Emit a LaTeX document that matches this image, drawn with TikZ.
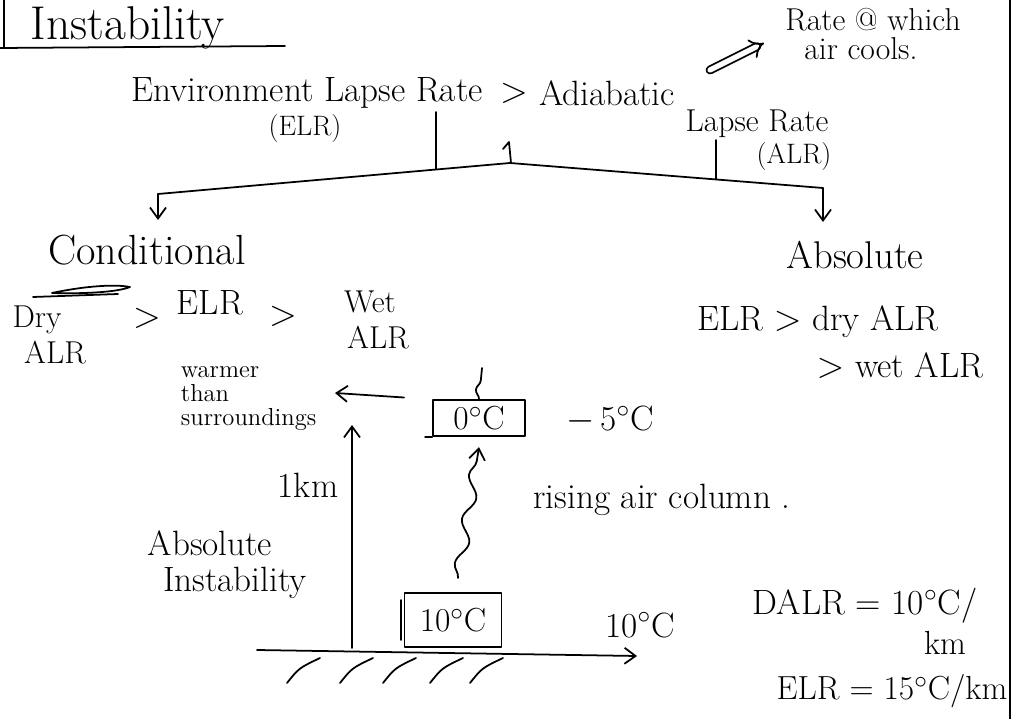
\documentclass[tikz,border=0pt]{standalone}
\usepackage{tikz}
\usetikzlibrary{arrows.meta, positioning, decorations.pathmorphing}

\tikzset{
  hand/.style={font=\fontsize{20}{22}\selectfont},
  big/.style={font=\fontsize{27}{29}\selectfont},
  note/.style={font=\fontsize{18}{17}\selectfont, align=left},
  tiny note/.style={font=\fontsize{14}{13.5}\selectfont, align=left},
  arr/.style={-{Straight Barb[length=2.2mm, width=3.2mm]}},
  tempbox/.style={draw, line width=1pt, font=\fontsize{19}{21}\selectfont},
  wavy/.style={decorate, decoration={snake, amplitude=1.1mm, segment length=9mm, post length=1.5mm}}
}

\begin{document}
\begin{tikzpicture}[x=0.02cm, y=-0.02cm, line width=1pt, line cap=round, line join=round]
\useasboundingbox (0,0) rectangle (1031,719);

% page rules
\draw (4,0) -- (4,48);
\draw (1010,0) -- (1010,719);

% heading
\node[big, anchor=west, inner sep=0pt] (head) at (30,28) {Instability};
\draw (0,48) -- (285,46);

% lapse rates
\node[hand] (env) at (307,93) {Environment Lapse Rate};
\node[hand] (gt) at (514,93) {$>$};
\node[hand] (adia) at (607,93) {Adiabatic};
\node[hand, font=\fontsize{16}{18}\selectfont] (elr) at (305,128) {(ELR)};
\node[hand, font=\fontsize{18}{20}\selectfont] (lapse) at (757,124) {Lapse Rate};
\node[hand, font=\fontsize{16}{18}\selectfont] (alr) at (794,156) {(ALR)};
\node[note] (cools) at (873,34) {Rate @ which\\ \ \ air cools.};
\coordinate (imp) at (710,70);
\coordinate (impend) at (764,43);
\draw[double, double distance=3pt, -{Implies}] (imp) -- (impend);

% split into two kinds
\coordinate (sl) at (158,194);
\coordinate (sm) at (510,163);
\coordinate (sr) at (823,188);
\draw (sl) -- (sm) -- (sr);
\draw (436,112) -- (436,169);
\draw (503,149) -- (509,142) -- (511,163);
\draw (716,140) -- (716,179);
\coordinate (sld) at (158,220);
\coordinate (srd) at (823,222);
\draw[arr] (sl) -- (sld);
\draw[arr] (sr) -- (srd);

% conditional
\node[hand, font=\fontsize{24}{26}\selectfont] (cond) at (147,250) {Conditional};
\draw (33,297) -- (118,294);
\draw (52,293) .. controls (85,286) and (115,284) .. (130,287)
  .. controls (118,292) and (85,294) .. (52,293);
\node[hand, font=\fontsize{18}{20}\selectfont] (dry) at (37,320) {Dry};
\node[hand, font=\fontsize{18}{20}\selectfont] (dryalr) at (55,353) {ALR};
\node[hand] (gta) at (147,318) {$>$};
\node[hand] (celr) at (210,303) {ELR};
\node[hand] (gtb) at (283,316) {$>$};
\node[hand, font=\fontsize{18}{20}\selectfont] (wet) at (370,302) {Wet};
\node[hand, font=\fontsize{18}{20}\selectfont] (wetalr) at (378,338) {ALR};

% absolute
\node[hand, font=\fontsize{22}{24}\selectfont] (abs) at (855,255) {Absolute};
\node[hand] (absa) at (818,322) {ELR $>$ dry ALR};
\node[hand] (absb) at (900,366) {$>$ wet ALR};

% parcel sketch
\coordinate (gl) at (257,650);
\coordinate (gr) at (637,656);
\draw[arr] (gl) -- (gr);
\foreach \hx in {287,340,383,430,470}
  \draw (\hx,683) .. controls (\hx+12,668) .. (\hx+33,658);
\coordinate (orig) at (352,648);
\coordinate (ytop) at (352,425);
\draw[arr] (orig) -- (ytop);

\node[tempbox, minimum width=1.94cm, minimum height=1.08cm] (ten) at (453,620) {10${}^\circ$C};
\draw (401,600) -- (401,640);
\node[tempbox, minimum width=1.84cm, minimum height=0.7cm] (zero) at (479,418) {0${}^\circ$C};
\draw (zero.south west) -- ++(-7,0);

\coordinate (rise) at (458,578);
\draw[wavy, arr] (rise) -- ([yshift=-6]zero.south);
\coordinate (up) at (482,368);
\draw[wavy, decoration={segment length=6mm, amplitude=0.8mm}] (zero.north) -- (up);

\node[tiny note, anchor=north west, inner sep=0pt] (warm) at (180,366) {warmer\\than\\surroundings};
\coordinate (warmtip) at (335,393);
\draw[arr, shorten <=16] (zero.north west) -- (warmtip);

\node[hand] (minus) at (610,420) {$-$\,5${}^\circ$C};
\node[hand] (km) at (308,485) {1km};
\node[hand] (risenote) at (662,500) {rising air column .};
\node[hand] (absi) at (210,543) {Absolute};
\node[hand] (absii) at (235,583) {Instability};
\node[hand] (tenr) at (640,625) {10${}^\circ$C};

% rates
\node[hand] (dalr) at (865,606) {DALR = 10${}^\circ$C/};
\node[hand, font=\fontsize{19}{21}\selectfont] (dalrkm) at (945,643) {km};
\node[hand, font=\fontsize{19}{21}\selectfont] (elrrate) at (892,691) {ELR = 15${}^\circ$C/km};
\end{tikzpicture}
\end{document}
